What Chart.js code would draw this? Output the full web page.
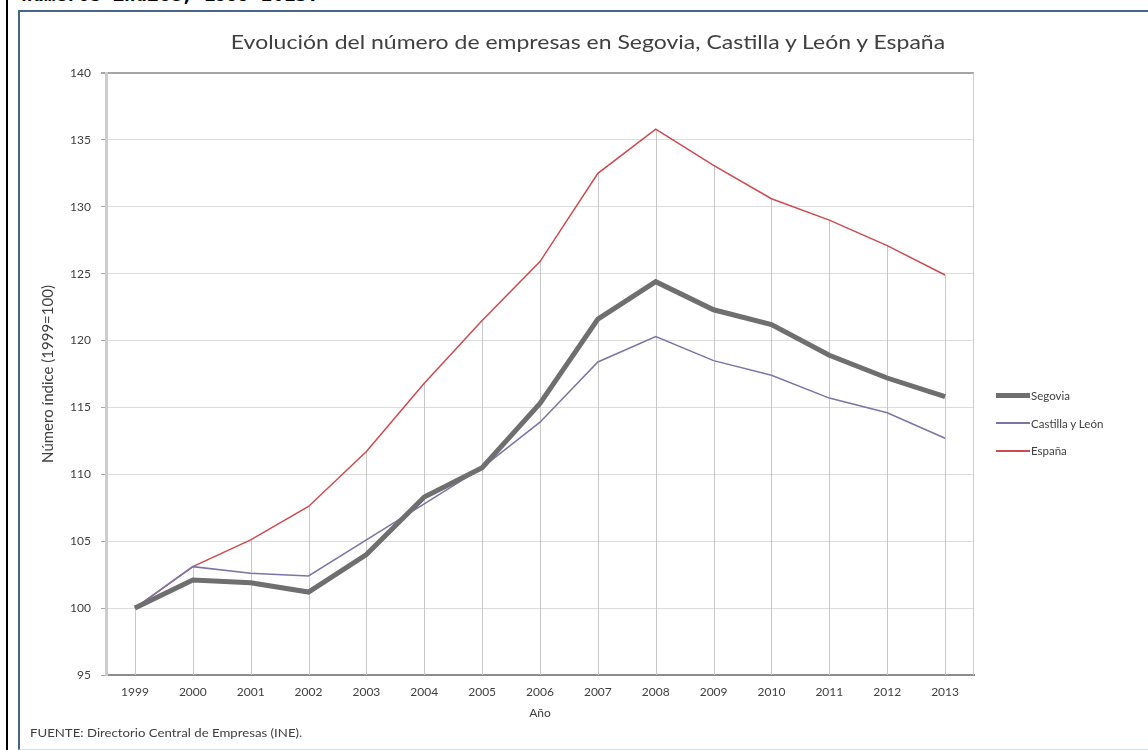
<!DOCTYPE html>
<html>
<head>
<meta charset="utf-8">
<script src="https://cdn.jsdelivr.net/npm/chart.js@4.4.1/dist/chart.umd.min.js"></script>
<style>
  html, body { margin: 0; padding: 0; background: #ffffff; }
  body { width: 1148px; height: 750px; position: relative; overflow: hidden; }
  #toptext { position: absolute; left: 21px; top: -15px; font-family: "DejaVu Sans Mono", monospace; font-size: 19px; font-weight: bold; color: #000; white-space: nowrap; line-height: 19px; }
  #blackline { position: absolute; left: 6px; top: 0; width: 2px; height: 750px; background: #000; }
  #panel { position: absolute; left: 18px; top: 10px; width: 1140px; height: 737px; border-left: 2px solid #4a6584; border-top: 2px solid #4a6584; border-bottom: 1px solid #cfe0ee; background: #ffffff; }
  #wrap { position: absolute; left: 20px; top: 12px; width: 1128px; height: 735px; }
  #title { position: absolute; left: 588px; top: 30px; transform: translateX(-50%) scaleX(1.21); font-family: Lato, "Open Sans", sans-serif; font-size: 19px; color: #404040; white-space: nowrap; line-height: 24px; }
  #legend { position: absolute; left: 996px; top: 382px; font-family: Lato, "Open Sans", sans-serif; font-size: 11.5px; color: #404040; }
  .li { display: flex; align-items: center; height: 27.5px; white-space: nowrap; }
  .sw { width: 34px; margin-right: 1px; }
  #footer { position: absolute; left: 30px; top: 725px; font-family: Lato, "Open Sans", sans-serif; font-size: 12px; transform-origin: left center; transform: scaleX(1.1); color: #404040; white-space: nowrap; }
</style>
</head>
<body>
<div id="toptext">números índice, 1999-2013.</div>
<div id="blackline"></div>
<div id="panel"></div>
<div id="wrap"><canvas id="c"></canvas></div>
<div id="title">Evolución del número de empresas en Segovia, Castilla y León y España</div>
<div id="legend"></div>
<div id="footer">FUENTE: Directorio Central de Empresas (INE).</div>
<script>
const years = ["1999","2000","2001","2002","2003","2004","2005","2006","2007","2008","2009","2010","2011","2012","2013"];
const segovia = [100, 102.1, 101.9, 101.2, 104.0, 108.3, 110.5, 115.3, 121.6, 124.4, 122.3, 121.2, 118.9, 117.2, 115.8];
const castillaLeon = [100, 103.1, 102.6, 102.4, 105.1, 107.8, 110.5, 113.9, 118.4, 120.3, 118.5, 117.4, 115.7, 114.6, 112.7];
const espana = [100, 103.1, 105.1, 107.6, 111.7, 116.8, 121.5, 125.9, 132.5, 135.8, 133.1, 130.6, 129.0, 127.1, 124.9];
const seriesNames = ["Segovia", "Castilla y León", "España"];
const yTicks = [95, 100, 105, 110, 115, 120, 125, 130, 135, 140];

const colors = ["#6f6f6f", "#7c74a6", "#cc4b4f"];
const widths = [5, 1.5, 1.5];

const dropLines = {
  id: 'dropLines',
  beforeDatasetsDraw(chart) {
    const { ctx, scales: { x, y }, chartArea } = chart;
    ctx.save();
    ctx.strokeStyle = '#c8c8c8';
    ctx.lineWidth = 1;
    years.forEach((yr, i) => {
      const top = Math.max(...chart.data.datasets.map(d => d.data[i]));
      const px = Math.round(x.getPixelForValue(i)) + 0.5;
      ctx.beginPath();
      ctx.moveTo(px, y.getPixelForValue(top));
      ctx.lineTo(px, y.bottom);
      ctx.stroke();
    });
    ctx.strokeStyle = '#cccccc';
    ctx.beginPath();
    ctx.moveTo(Math.round(chartArea.right) - 0.5, chartArea.top);
    ctx.lineTo(Math.round(chartArea.right) - 0.5, chartArea.bottom);
    ctx.stroke();
    ctx.restore();
  }
};

const datasets = [segovia, castillaLeon, espana].map((d, i) => ({
  label: seriesNames[i],
  data: d,
  borderColor: colors[i],
  backgroundColor: colors[i],
  borderWidth: widths[i],
  pointRadius: 0,
  tension: 0,
  fill: false,
  order: i
}));

new Chart(document.getElementById('c'), {
  type: 'line',
  data: { labels: years, datasets },
  options: {
    responsive: true,
    maintainAspectRatio: false,
    animation: false,
    layout: { padding: { left: 0, right: 174, top: 61, bottom: 27 } },
    plugins: { legend: { display: false }, title: { display: false }, tooltip: { enabled: false } },
    scales: {
      x: {
        offset: true,
        grid: { display: false, drawTicks: false },
        border: { display: true, color: '#8c8c8c', width: 2 },
        ticks: { color: '#404040', font: { family: 'Lato', size: 12 }, padding: 10, maxRotation: 0, autoSkip: false },
        title: { display: true, text: 'Año', color: '#404040', font: { family: 'Lato', size: 12 }, padding: { top: 4, bottom: 0 } },
        afterFit(s) { s.height = 45; }
      },
      y: {
        min: 95, max: 140,
        afterBuildTicks(s) { s.ticks = yTicks.map(v => ({ value: v })); },
        grid: {
          color: ctx => ctx.tick && ctx.tick.value === 140 ? '#a6a6a6' : '#dcdcdc',
          lineWidth: ctx => ctx.tick && ctx.tick.value === 140 ? 2 : 1,
          tickLength: 5,
          tickColor: '#a6a6a6'
        },
        border: { display: true, color: '#cccccc', width: 3 },
        ticks: { color: '#404040', font: { family: 'Lato', size: 12 }, padding: 10 },
        title: { display: true, text: 'Número índice (1999=100)', color: '#404040', font: { family: 'Lato', size: 15 }, padding: { top: 19, bottom: 0 } },
        afterFit(s) { s.width = 86; }
      }
    }
  },
  plugins: [dropLines]
});

const lg = document.getElementById('legend');
seriesNames.forEach((n, i) => {
  const row = document.createElement('div');
  row.className = 'li';
  const sw = document.createElement('div');
  sw.className = 'sw';
  sw.style.height = (i === 0 ? 5 : 2) + 'px';
  sw.style.background = colors[i];
  const t = document.createElement('span');
  t.textContent = n;
  row.appendChild(sw); row.appendChild(t);
  lg.appendChild(row);
});
</script>
</body>
</html>
